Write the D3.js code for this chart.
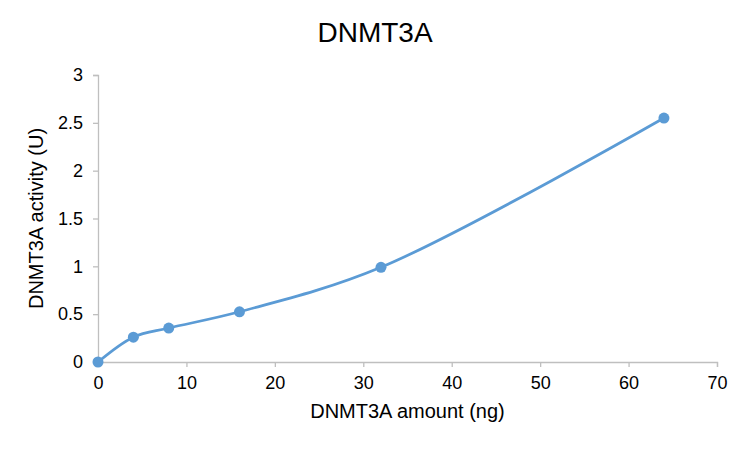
<!DOCTYPE html>
<html>
<head>
<meta charset="utf-8">
<script src="https://cdn.jsdelivr.net/npm/d3@7"></script>
<style>
  body { margin: 0; background: #fff; }
  text { font-family: "Liberation Sans", Arial, sans-serif; fill: #000; }
</style>
</head>
<body>
<div id="chart"></div>
<script>
// data
var amounts = [0, 4, 8, 16, 32, 64];
var activity = [0, 0.26, 0.355, 0.525, 0.99, 2.55];
var xTicks = [0, 10, 20, 30, 40, 50, 60, 70];
var yTicks = [0, 0.5, 1, 1.5, 2, 2.5, 3];

var width = 750, height = 450;
var plotLeft = 98, plotRight = 717, plotTop = 75, plotBottom = 362;

var svg = d3.select("#chart").append("svg")
    .attr("width", width)
    .attr("height", height);

var x = d3.scaleLinear().domain([0, 70]).range([plotLeft, plotRight]);
var y = d3.scaleLinear().domain([0, 3]).range([plotBottom, plotTop]);

// axes
var xAxis = svg.append("g")
    .attr("transform", "translate(0," + plotBottom + ")")
    .call(d3.axisBottom(x).tickValues(xTicks).tickSize(5).tickPadding(9).tickFormat(d3.format("d")));
var yAxis = svg.append("g")
    .attr("transform", "translate(" + plotLeft + ",0)")
    .call(d3.axisLeft(y).tickValues(yTicks).tickSize(5).tickPadding(10).tickFormat(function (d) { return d; }));

[xAxis, yAxis].forEach(function (a) {
    a.select(".domain").attr("stroke", "#bfbfbf").attr("stroke-width", 1.3);
    a.selectAll(".tick line").attr("stroke", "#bfbfbf").attr("stroke-width", 1.3);
    a.selectAll(".tick text")
        .attr("font-size", "18px")
        .attr("font-family", "Liberation Sans, Arial, sans-serif")
        .attr("fill", "#000");
});

// line
var pts = amounts.map(function (d, i) { return [d, activity[i]]; });
var line = d3.line()
    .x(function (d) { return x(d[0]); })
    .y(function (d) { return y(d[1]); })
    .curve(d3.curveCatmullRom.alpha(0.5));

svg.append("path")
    .datum(pts)
    .attr("d", line)
    .attr("fill", "none")
    .attr("stroke", "#5b9bd5")
    .attr("stroke-width", 2.75);

svg.selectAll("circle.pt")
    .data(pts)
    .enter()
    .append("circle")
    .attr("class", "pt")
    .attr("cx", function (d) { return x(d[0]); })
    .attr("cy", function (d) { return y(d[1]); })
    .attr("r", 5.5)
    .attr("fill", "#5b9bd5");

// title and labels
svg.append("text")
    .attr("x", 375)
    .attr("y", 42)
    .attr("text-anchor", "middle")
    .attr("font-size", "28px")
    .text("DNMT3A");

svg.append("text")
    .attr("x", (plotLeft + plotRight) / 2)
    .attr("y", 418)
    .attr("text-anchor", "middle")
    .attr("font-size", "20px")
    .text("DNMT3A amount (ng)");

svg.append("text")
    .attr("transform", "translate(43," + ((plotTop + plotBottom) / 2) + ") rotate(-90)")
    .attr("text-anchor", "middle")
    .attr("font-size", "20px")
    .text("DNMT3A activity (U)");
</script>
</body>
</html>
